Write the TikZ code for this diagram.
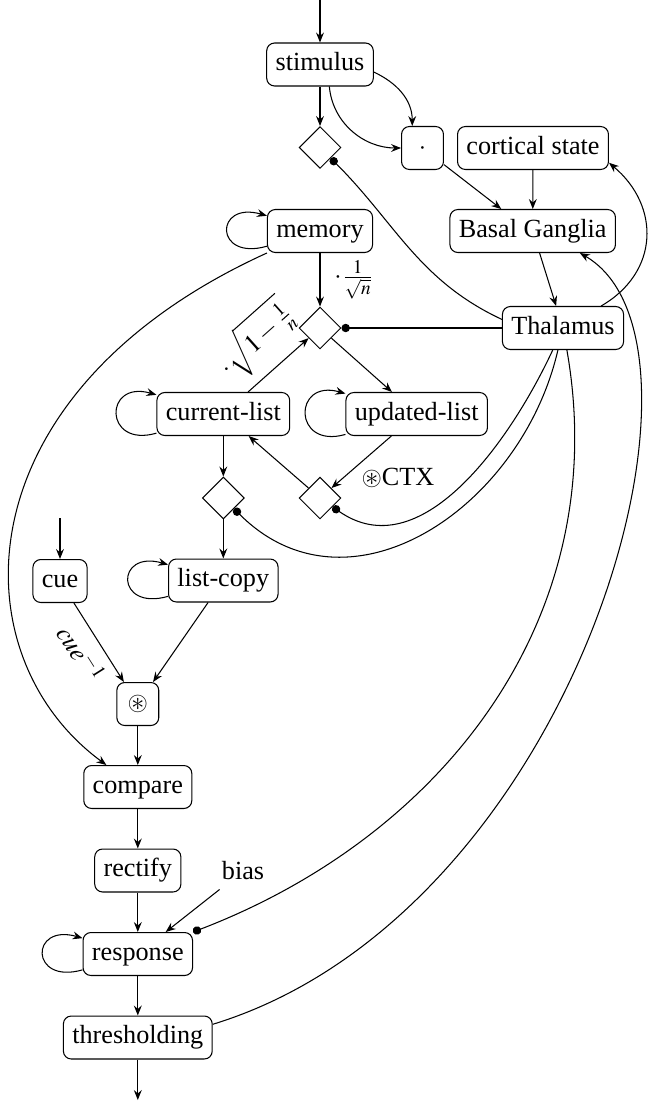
\documentclass[tikz,border=0pt]{standalone}
\usepackage{amssymb}
\usepackage{mathptmx}
\usepackage[no-math]{fontspec}
\setmainfont{Liberation Serif}
\usetikzlibrary{arrows.meta,shapes.geometric}
\begin{document}
\begin{tikzpicture}[x=0.3817pt,y=-0.3817pt,
  line width=0.4pt,
  box/.style={draw, rounded corners=3pt, inner xsep=3.4pt, inner ysep=0pt,
    minimum height=16.4pt, text height=6.8pt, text depth=2.2pt},
  sq/.style={box, minimum width=16pt},
  dia/.style={draw, diamond, minimum width=16pt, minimum height=16pt, inner sep=0pt},
  selfloop/.style={loop left, out=196, in=164, looseness=0.5, min distance=21pt},
  >={Stealth[length=3.8pt,width=3pt,inset=1.3pt]},
  ball/.style={-{Circle[length=3.2pt]}}]
\useasboundingbox (0,0) rectangle (662,1102);
% nodes
\node[box] (stim) at (320,64.5) {stimulus};
\node[dia] (d1) at (320,147.5) {};
\node[sq] (dotn) at (422.5,148) {$\cdot$};
\node[box] (cort) at (533,148) {cortical state};
\node[box] (mem) at (320,231) {memory};
\node[box] (bg) at (532.7,231) {Basal Ganglia};
\node[box] (thal) at (563,328) {Thalamus};
\node[dia] (dm) at (320,328) {};
\node[box] (cl) at (223.3,414) {current-list};
\node[box] (ul) at (416.7,414) {updated-list};
\node[dia] (d2) at (223.3,498) {};
\node[dia] (d3) at (320,498) {};
\node[box] (lc) at (223.3,580.5) {list-copy};
\node[box] (cue) at (60,581) {cue};
\node[sq] (ast) at (137.8,704) {$\circledast$};
\node[box] (cmp) at (137.8,787) {compare};
\node[box] (rect) at (137.8,870.5) {rectify};
\node[inner sep=3.33pt] (bias) at (243,871) {bias};
\node[box] (resp) at (137.8,954) {response};
\node[box] (thr) at (137.8,1037.5) {thresholding};
\coordinate (inS) at (320,0);
\coordinate (inC) at (60,518);
\coordinate (outT) at (137.8,1100);
% connectors
\draw[->] (inS) -- (stim);
\draw[->] (stim) -- (d1);
\draw[->] (stim.-8) to[out=-25,in=90] (dotn.115);
\draw[->] (stim.-67) to[out=-85,in=180] (dotn.west);
\draw[->] (dotn) -- (bg.145);
\draw[->] (cort) -- (bg);
\draw[->] (bg) -- (thal);
\draw[->] (thal.30) to[out=30,in=-40,looseness=1.2] (cort.-11);
\draw[ball] (thal.172) to[out=155,in=-45] (d1);
\path[->] (mem) edge[selfloop] (mem);
\draw[->] (mem) -- node[right, xshift=2pt] {$\cdot\frac{1}{\sqrt{n}}$} (dm);
\draw[ball] (thal) -- (dm);
\draw[->] (cl) -- node[sloped,above] {$\cdot\sqrt{1-\frac{1}{n}}$} (dm);
\draw[->] (dm) -- (ul);
\path[->] (cl) edge[selfloop] (cl);
\path[->] (ul) edge[selfloop] (ul);
\draw[->] (cl) -- (d2);
\draw[->] (ul) -- node[pos=0.55, anchor=north west, inner sep=1pt] {$\circledast$CTX} (d3);
\draw[->] (d3) -- (cl);
\draw[->] (d2) -- (lc);
\path[->] (lc) edge[selfloop] (lc);
\draw[ball] (thal) to[out=-115,in=-35] (d3);
\draw[ball] (thal) to[out=-103,in=-45,looseness=1.15] (d2);
\draw[ball] (thal) to[out=-80,in=21] (resp.north east);
\draw[->] (thr.10) .. controls +(363,-111) and +(156,90) .. (bg.-25);
\draw[->] (mem.south west) .. controls +(-308,140) and +(-150,-110) .. (cmp.145);
\draw[->] (inC) -- (cue);
\draw[->] (cue) -- node[sloped,below] {$cue^{-1}$} (ast);
\draw[->] (lc) -- (ast);
\draw[->] (ast) -- (cmp);
\draw[->] (cmp) -- (rect);
\draw[->] (rect) -- (resp);
\draw[->] (bias) -- (resp);
\path[->] (resp) edge[selfloop] (resp);
\draw[->] (resp) -- (thr);
\draw[->] (thr) -- (outT);
\end{tikzpicture}
\end{document}
